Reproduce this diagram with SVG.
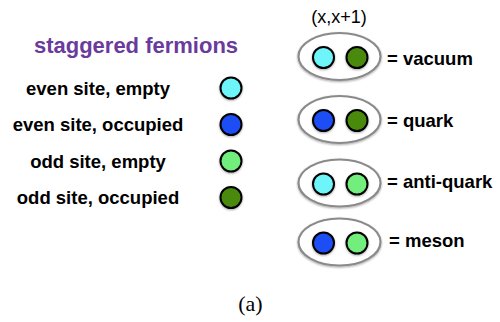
<svg xmlns="http://www.w3.org/2000/svg" width="500" height="322" viewBox="0 0 500 322">
  <defs>
    <filter id="sh" x="-30%" y="-30%" width="160%" height="160%">
      <feGaussianBlur in="SourceAlpha" stdDeviation="1"/>
      <feOffset dx="0" dy="1" result="b"/>
      <feComponentTransfer><feFuncA type="linear" slope="0.35"/></feComponentTransfer>
      <feMerge><feMergeNode/><feMergeNode in="SourceGraphic"/></feMerge>
    </filter>
  </defs>
  <style>
    .lbl { font-family: "Liberation Sans", Arial, sans-serif; font-weight: bold; font-size: 18.5px; fill: #000; }
    .title { font-family: "Liberation Sans", Arial, sans-serif; font-weight: bold; font-size: 22px; fill: #6A3A9C; }
    .reg { font-family: "Liberation Sans", Arial, sans-serif; font-size: 18px; fill: #000; }
    .cap { font-family: "Liberation Serif", "Times New Roman", serif; font-size: 22px; fill: #000; }
    .dot { stroke: #000; stroke-width: 2; filter: url(#sh); }
    .ce { fill: #6EF5FA; }
    .eo { fill: #1F4DF5; }
    .oe { fill: #72EE7B; }
    .oo { fill: #4A8A10; }
    .pair { fill: #fff; stroke: #8a8a8a; stroke-width: 2.2; filter: url(#sh); }
  </style>
  <rect width="500" height="322" fill="#fff"/>

  <g id="legend">
    <text class="title" x="136" y="53" text-anchor="middle">staggered fermions</text>
    <g id="even-empty">
      <text class="lbl" x="98" y="94.5" text-anchor="middle">even site, empty</text>
      <circle class="dot ce" cx="231" cy="88" r="10.5"/>
    </g>
    <g id="even-occupied">
      <text class="lbl" x="98" y="131" text-anchor="middle">even site, occupied</text>
      <circle class="dot eo" cx="231" cy="124.5" r="10.5"/>
    </g>
    <g id="odd-empty">
      <text class="lbl" x="98" y="167.5" text-anchor="middle">odd site, empty</text>
      <circle class="dot oe" cx="231" cy="161" r="10.5"/>
    </g>
    <g id="odd-occupied">
      <text class="lbl" x="98" y="204" text-anchor="middle">odd site, occupied</text>
      <circle class="dot oo" cx="231" cy="197.5" r="10.5"/>
    </g>
  </g>

  <text class="reg" x="339" y="23" text-anchor="middle">(x,x+1)</text>

  <g id="vacuum">
    <ellipse class="pair" cx="339.5" cy="56.5" rx="41" ry="23.5"/>
    <circle class="dot ce" cx="323.5" cy="57.5" r="10.5"/>
    <circle class="dot oo" cx="357" cy="57.5" r="10.5"/>
    <text class="lbl" x="387" y="65">= vacuum</text>
  </g>
  <g id="quark">
    <ellipse class="pair" cx="339.5" cy="119.5" rx="41" ry="23.5"/>
    <circle class="dot eo" cx="323.5" cy="120.5" r="10.5"/>
    <circle class="dot oo" cx="357" cy="120.5" r="10.5"/>
    <text class="lbl" x="387" y="127">= quark</text>
  </g>
  <g id="anti-quark">
    <ellipse class="pair" cx="339.5" cy="183" rx="41" ry="23.5"/>
    <circle class="dot ce" cx="323.5" cy="184" r="10.5"/>
    <circle class="dot oe" cx="357" cy="184" r="10.5"/>
    <text class="lbl" x="387" y="188">= anti-quark</text>
  </g>
  <g id="meson">
    <ellipse class="pair" cx="339.5" cy="242" rx="41" ry="23.5"/>
    <circle class="dot eo" cx="323.5" cy="243" r="10.5"/>
    <circle class="dot oe" cx="357" cy="243" r="10.5"/>
    <text class="lbl" x="389" y="247">= meson</text>
  </g>

  <g id="connectors"/>

  <text class="cap" x="250.5" y="311" text-anchor="middle">(a)</text>
</svg>
